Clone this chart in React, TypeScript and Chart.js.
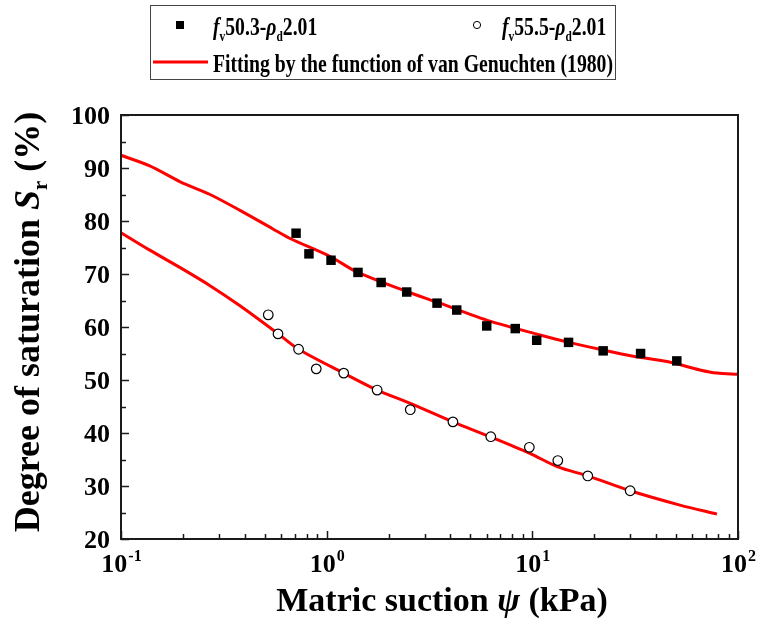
import React, { useEffect, useRef } from "react";
import { Chart, registerables } from "chart.js";

Chart.register(...registerables);

const FONT = '"Liberation Serif", "Times New Roman", serif';

// Measured data: f_v50.3 - rho_d2.01 (filled squares)
const sqSuction = [0.71, 0.82, 1.05, 1.42, 1.84, 2.45, 3.44, 4.29, 6.0, 8.26, 10.5, 15.0, 22.1, 33.6, 50.4];
const sqSat = [77.7, 73.8, 72.6, 70.3, 68.4, 66.6, 64.5, 63.2, 60.2, 59.7, 57.5, 57.1, 55.5, 55.0, 53.6];

// Measured data: f_v55.5 - rho_d2.01 (open circles)
const ciSuction = [0.52, 0.58, 0.73, 0.89, 1.21, 1.76, 2.55, 4.11, 6.28, 9.67, 13.3, 18.6, 29.9];
const ciSat = [62.3, 58.7, 55.8, 52.1, 51.3, 48.1, 44.4, 42.1, 39.3, 37.3, 34.8, 31.9, 29.1];

// van Genuchten fitted curves
const fitUpperSuction = [0.1, 0.138, 0.194, 0.271, 0.379, 0.548, 0.664, 1.04, 1.4, 2.45, 3.55, 6.22, 10.9, 14.7, 21.3, 30.9, 45.2, 65.3, 79.0, 100];
const fitUpperSat = [92.4, 90.4, 87.4, 85.0, 82.0, 78.5, 76.7, 73.3, 70.4, 66.7, 64.5, 61.1, 58.5, 57.2, 55.8, 54.5, 53.5, 51.9, 51.3, 51.1];
const fitLowerSuction = [0.1, 0.138, 0.194, 0.271, 0.379, 0.582, 0.73, 1.21, 1.76, 2.55, 4.11, 6.28, 9.67, 13.3, 18.6, 29.9, 52.2, 79.0];
const fitLowerSat = [77.8, 74.5, 71.2, 67.8, 64.0, 58.7, 55.8, 51.3, 48.1, 45.6, 42.1, 39.25, 36.2, 33.6, 31.9, 29.1, 26.4, 24.7];

// Axis ticks
const yTicks = [20, 30, 40, 50, 60, 70, 80, 90, 100];
const yMinorTicks = [25, 35, 45, 55, 65, 75, 85, 95];
const xTicks = [0.1, 1, 10, 100];
const xTickExp = ["-1", "0", "1", "2"];
const xMinorMult = [2, 3, 4, 5, 6, 7, 8, 9];

const legendSq = [{ t: "f", it: true }, { t: "v", sub: true }, { t: "50.3-" }, { t: "ρ", it: true }, { t: "d", sub: true }, { t: "2.01" }];
const legendCi = [{ t: "f", it: true }, { t: "v", sub: true }, { t: "55.5-" }, { t: "ρ", it: true }, { t: "d", sub: true }, { t: "2.01" }];
const legendFit = [{ t: "Fitting by the function of van Genuchten (1980)" }];
const yTitle = [{ t: "Degree of saturation " }, { t: "S", it: true }, { t: "r", sub: true }, { t: " (%)" }];
const xTitle = [{ t: "Matric suction " }, { t: "ψ", it: true }, { t: " (kPa)" }];

type Run = { t: string; it?: boolean; sub?: boolean; sup?: boolean };

function fontOf(size: number, it?: boolean) {
  return `${it ? "italic " : ""}bold ${size}px ${FONT}`;
}
function rs(r: Run, size: number) {
  return r.sub || r.sup ? size * 0.58 : size;
}
function measureRuns(ctx: CanvasRenderingContext2D, runs: Run[], size: number) {
  let w = 0;
  for (const r of runs) {
    ctx.font = fontOf(rs(r, size), r.it);
    w += ctx.measureText(r.t).width;
  }
  return w;
}
function drawRuns(ctx: CanvasRenderingContext2D, runs: Run[], x: number, y: number, size: number, align: string) {
  const w = measureRuns(ctx, runs, size);
  let cx = align === "center" ? x - w / 2 : align === "right" ? x - w : x;
  ctx.textAlign = "left";
  ctx.textBaseline = "alphabetic";
  for (const r of runs) {
    ctx.font = fontOf(rs(r, size), r.it);
    const dy = r.sub ? size * 0.22 : r.sup ? -size * 0.42 : 0;
    ctx.fillText(r.t, cx, y + dy);
    cx += ctx.measureText(r.t).width;
  }
}

const overlay = {
  id: "overlay",
  afterDraw(chart: any) {
    const { ctx, chartArea: a, scales } = chart;
    const xs = scales.x;
    const ys = scales.y;
    ctx.save();
    ctx.fillStyle = "#000";
    ctx.strokeStyle = "#1a1a1a";

    // inward ticks
    ctx.lineWidth = 1.5;
    ctx.beginPath();
    for (const v of yTicks) {
      const y = Math.round(ys.getPixelForValue(v)) + 0.5;
      ctx.moveTo(a.left, y);
      ctx.lineTo(a.left + 8, y);
    }
    for (const v of yMinorTicks) {
      const y = Math.round(ys.getPixelForValue(v)) + 0.5;
      ctx.moveTo(a.left, y);
      ctx.lineTo(a.left + 5, y);
    }
    for (const v of xTicks) {
      const x = Math.round(xs.getPixelForValue(v)) + 0.5;
      ctx.moveTo(x, a.bottom);
      ctx.lineTo(x, a.bottom - 8);
    }
    for (const d of [0.1, 1, 10]) {
      for (const m of xMinorMult) {
        const x = Math.round(xs.getPixelForValue(d * m)) + 0.5;
        ctx.moveTo(x, a.bottom);
        ctx.lineTo(x, a.bottom - 5);
      }
    }
    ctx.stroke();

    // frame
    ctx.lineWidth = 2;
    ctx.strokeRect(a.left, a.top, a.right - a.left, a.bottom - a.top);

    // y tick labels
    ctx.font = fontOf(26);
    ctx.textAlign = "right";
    ctx.textBaseline = "alphabetic";
    for (const v of yTicks) {
      ctx.fillText(String(v), a.left - 11, ys.getPixelForValue(v) + 8.5);
    }

    // x tick labels with superscript exponent
    xTicks.forEach((v, i) => {
      const px = xs.getPixelForValue(v);
      ctx.font = fontOf(26);
      const w1 = ctx.measureText("10").width;
      ctx.font = fontOf(16);
      const w2 = ctx.measureText(xTickExp[i]).width;
      const x0 = px - (w1 + w2) / 2;
      ctx.textAlign = "left";
      ctx.font = fontOf(26);
      ctx.fillText("10", x0, 572);
      ctx.font = fontOf(16);
      ctx.fillText(xTickExp[i], x0 + w1 + 1, 561);
    });

    // axis titles
    drawRuns(ctx, xTitle, 442, 611, 34, "center");
    ctx.save();
    ctx.translate(39, 322);
    ctx.rotate(-Math.PI / 2);
    drawRuns(ctx, yTitle, 0, 0, 36, "center");
    ctx.restore();

    // legend
    ctx.lineWidth = 1;
    ctx.strokeStyle = "#444";
    ctx.strokeRect(150.5, 5.5, 465, 74);
    const lsize = 26;
    const sx = 400 / measureRuns(ctx, legendFit, lsize);
    const drawSq = (runs: Run[], x: number, y: number) => {
      ctx.save();
      ctx.translate(x, y);
      ctx.scale(sx, 1);
      drawRuns(ctx, runs, 0, 0, lsize, "left");
      ctx.restore();
    };
    ctx.fillStyle = "#000";
    ctx.fillRect(176, 21, 8, 8);
    drawSq(legendSq, 213, 35);
    ctx.beginPath();
    ctx.arc(477, 25, 3.6, 0, Math.PI * 2);
    ctx.fillStyle = "#fff";
    ctx.fill();
    ctx.strokeStyle = "#000";
    ctx.lineWidth = 1;
    ctx.stroke();
    ctx.fillStyle = "#000";
    drawSq(legendCi, 502, 35);
    ctx.strokeStyle = "#ff0000";
    ctx.lineWidth = 3;
    ctx.beginPath();
    ctx.moveTo(153, 62);
    ctx.lineTo(208, 62);
    ctx.stroke();
    drawSq(legendFit, 213, 72);

    ctx.restore();
  },
};

export default function App() {
  const ref = useRef<HTMLCanvasElement>(null);
  useEffect(() => {
    document.body.style.margin = "0";
    const canvas = ref.current!;
    const chart = new Chart(canvas, {
      type: "scatter",
      data: {
        datasets: [
          {
            label: "fv50.3-ρd2.01",
            data: sqSuction.map((x, i) => ({ x, y: sqSat[i] })),
            pointStyle: "rect",
            pointRadius: 6.7,
            backgroundColor: "#000",
            borderColor: "#000",
            borderWidth: 0,
            showLine: false,
            order: 0,
          },
          {
            label: "fv55.5-ρd2.01",
            data: ciSuction.map((x, i) => ({ x, y: ciSat[i] })),
            pointStyle: "circle",
            pointRadius: 4.8,
            backgroundColor: "#fff",
            borderColor: "#000",
            borderWidth: 1.2,
            showLine: false,
            order: 0,
          },
          {
            label: "Fit upper",
            data: fitUpperSuction.map((x, i) => ({ x, y: fitUpperSat[i] })),
            showLine: true,
            pointRadius: 0,
            borderColor: "#ff0000",
            borderWidth: 3,
            tension: 0.3,
            order: 1,
          },
          {
            label: "Fit lower",
            data: fitLowerSuction.map((x, i) => ({ x, y: fitLowerSat[i] })),
            showLine: true,
            pointRadius: 0,
            borderColor: "#ff0000",
            borderWidth: 3,
            tension: 0.3,
            order: 1,
          },
        ],
      } as any,
      options: {
        animation: false,
        responsive: false,
        events: [],
        layout: { padding: { left: 121, right: 21, top: 115, bottom: 89 } },
        plugins: { legend: { display: false }, tooltip: { enabled: false } },
        scales: {
          x: { type: "logarithmic", min: 0.1, max: 100, display: false },
          y: { type: "linear", min: 20, max: 100, display: false },
        },
      } as any,
      plugins: [overlay],
    });
    return () => chart.destroy();
  }, []);
  return (
    <div style={{ position: "absolute", left: 0, top: 0, width: 759, height: 628, background: "#fff" }}>
      <canvas ref={ref} width={759} height={628} style={{ display: "block", width: 759, height: 628 }} />
    </div>
  );
}
